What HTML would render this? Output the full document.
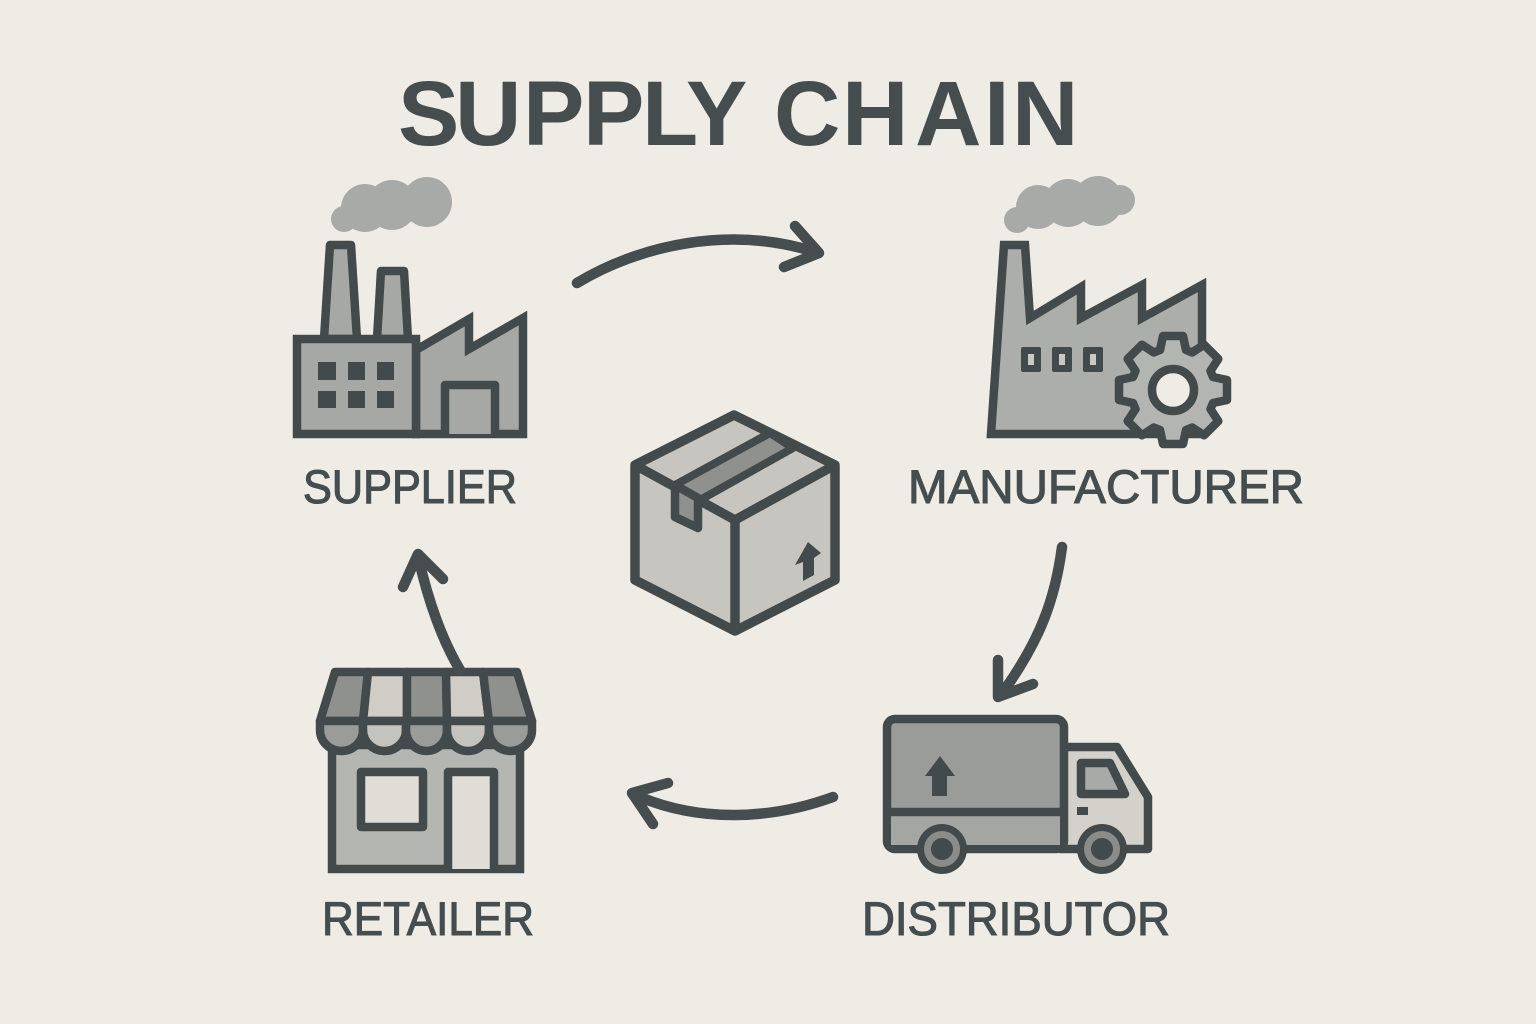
<!DOCTYPE html>
<html lang="en">
<head>
<meta charset="utf-8">
<title>Supply Chain</title>
<style>
html,body{margin:0;padding:0;background:#efece6;}
svg{display:block;}
text{font-family:"Liberation Sans",Arial,sans-serif;fill:#454d4f;}
.lab{font-size:47px;stroke:#454d4f;stroke-width:1.1px;}
.s{stroke:#434a4b;stroke-width:8.5;stroke-linejoin:miter;}
.r{stroke:#434a4b;stroke-width:8.5;stroke-linejoin:round;}
.a{fill:none;stroke:#454d4f;stroke-width:10.5;stroke-linecap:round;stroke-linejoin:round;}
</style>
</head>
<body>
<svg width="1536" height="1024" viewBox="0 0 1536 1024" xmlns="http://www.w3.org/2000/svg">
<rect width="1536" height="1024" fill="#efece6"/>

<text y="145" font-size="92" font-weight="700" x="398 455 523 583 642 686 0 774 842 915 984 1012">SUPPLY CHAIN</text>

<!-- Supplier -->
<g fill="#a8aaa8">
<circle cx="344" cy="219" r="13"/><circle cx="365" cy="208" r="24"/><circle cx="392" cy="205" r="25"/><circle cx="427" cy="202" r="25"/>
</g>
<g fill="#a6a8a6">
<path class="r" d="M324 339L330 245H351L357 339Z"/>
<path class="r" d="M377 339L381 271H404L408 339Z"/>
<path class="s" d="M416 350L469 319V349L523 318V434H416Z"/>
<rect class="s" x="297" y="339" width="119" height="95"/>
<path class="r" d="M445 434V385H495V434"/>
</g>
<g fill="#434a4b">
<rect x="318" y="362" width="18" height="18"/><rect x="348" y="362" width="17" height="18"/><rect x="377" y="362" width="17" height="18"/>
<rect x="318" y="391" width="18" height="17"/><rect x="348" y="391" width="17" height="17"/><rect x="377" y="391" width="17" height="17"/>
</g>
<text class="lab" x="303" y="503" textLength="214" lengthAdjust="spacingAndGlyphs">SUPPLIER</text>

<!-- Manufacturer -->
<g fill="#a8aaa8">
<circle cx="1017" cy="220" r="13"/><circle cx="1038" cy="207" r="22"/><circle cx="1068" cy="203" r="24"/><circle cx="1098" cy="201" r="25"/><circle cx="1120" cy="200" r="15"/>
</g>
<path class="s" fill="#acaeac" d="M991 434L1004 245H1025L1030 318L1081 287V318L1142 285V318L1202 285V434Z" />
<rect x="1021" y="347" width="20" height="25" rx="2" fill="#434a4b"/><rect x="1052" y="347" width="20" height="25" rx="2" fill="#434a4b"/><rect x="1083" y="347" width="20" height="25" rx="2" fill="#434a4b"/>
<rect x="1028" y="354" width="6" height="11" fill="#c9c9c4"/><rect x="1059" y="354" width="6" height="11" fill="#c9c9c4"/><rect x="1090" y="354" width="6" height="11" fill="#c9c9c4"/>
<g transform="translate(1173 390)">
<path class="r" fill="#b3b5b3" d="M40 -13L54 -10V10L40 13L37.500 19.100L45.300 31.100L31.100 45.300L19.100 37.500L13 40L10 54H-10L-13 40L-19.100 37.500L-31.100 45.300L-45.300 31.100L-37.500 19.100L-40 13L-54 10V-10L-40 -13L-37.500 -19.100L-45.300 -31.100L-31.100 -45.300L-19.100 -37.500L-13 -40L-10 -54H10L13 -40L19.100 -37.500L31.100 -45.300L45.300 -31.100L37.500 -19.100Z"/>
<circle r="21" fill="#efece6" stroke="#434a4b" stroke-width="8.500"/>
</g>
<text class="lab" x="908" y="503" textLength="396" lengthAdjust="spacingAndGlyphs">MANUFACTURER</text>

<!-- Box -->
<path class="r" fill="#c7c5bf" d="M734 415L635 465V580L735 631L835 580V465Z" style="stroke-width:9.500"/>
<path class="r" fill="none" d="M635 465L735 520L835 465M735 520V631" style="stroke-width:9.500"/>
<path class="r" fill="#8f918f" d="M675 485L770 433L793 448L700 500Z" style="stroke-width:8"/>
<path class="r" fill="#8f918f" d="M675 485V517L698 528V498Z"/>
<path fill="#434a4b" d="M808 542L795 565L803 562V581L814 575V558L821 553Z"/>

<!-- Truck -->
<path class="r" fill="#d4d0ca" d="M1060 747H1117L1148 797V849H1060Z"/>
<rect class="r" x="887" y="719" width="177" height="130" rx="8" fill="#9a9c9a"/>
<rect x="891" y="816" width="169" height="29" fill="#a4a6a4"/>
<path class="s" fill="none" d="M887 812H1064"/>
<path class="r" fill="#a8aaa8" d="M1081 763H1110L1125 794H1081Z"/>
<rect x="1077" y="807" width="11" height="8" fill="#434a4b"/>
<path fill="#434a4b" d="M940 756L925 776H932V796H947V776H955Z"/>
<circle cx="942" cy="849" r="25" fill="#434a4b"/><circle cx="942" cy="849" r="18" fill="#8a8c8a"/><circle cx="942" cy="849" r="11" fill="#434a4b"/>
<circle cx="1102" cy="849" r="25" fill="#434a4b"/><circle cx="1102" cy="849" r="18" fill="#8a8c8a"/><circle cx="1102" cy="849" r="11" fill="#434a4b"/>
<text class="lab" x="862" y="935" textLength="308" lengthAdjust="spacingAndGlyphs">DISTRIBUTOR</text>

<!-- Retailer -->
<rect class="s" x="332" y="745" width="188" height="124" fill="#b4b6b2"/>
<rect class="r" x="361" y="772" width="62" height="55" fill="#e0ddd7"/>
<path class="r" fill="#e0ddd7" d="M448 869V772H494V869"/>
<g class="r">
<path fill="#8f918f" d="M335 672H368L363 721H320Z"/>
<path fill="#d0cdc7" d="M368 672H407V721H363Z"/>
<path fill="#8f918f" d="M407 672H446L447 721H407Z"/>
<path fill="#d0cdc7" d="M446 672H483L489 721H447Z"/>
<path fill="#8f918f" d="M483 672H517L532 721H489Z"/>
<path fill="#9a9c9a" d="M320 721H363V730A21.500 21 0 0 1 320 730Z"/>
<path fill="#c4c3bd" d="M363 721H406V730A21.500 21 0 0 1 363 730Z"/>
<path fill="#9a9c9a" d="M406 721H447V730A20.500 21 0 0 1 406 730Z"/>
<path fill="#c4c3bd" d="M447 721H489V730A21 21 0 0 1 447 730Z"/>
<path fill="#9a9c9a" d="M489 721H532V730A21.500 21 0 0 1 489 730Z"/>
</g>
<text class="lab" x="322" y="935" textLength="212" lengthAdjust="spacingAndGlyphs">RETAILER</text>

<!-- Connectors -->
<path class="a" d="M577 283C640 245 730 225 815 252M795 226L819 253L784 267"/>
<path class="a" d="M1062 547C1055 600 1040 640 1003 692M998 660V697L1033 684"/>
<path class="a" d="M833 797C770 820 700 822 640 797M668 783L632 793L653 824"/>
<path class="a" d="M460 670C442 640 428 600 419 560M403 587L418 554L443 579"/>
</svg>
</body>
</html>
